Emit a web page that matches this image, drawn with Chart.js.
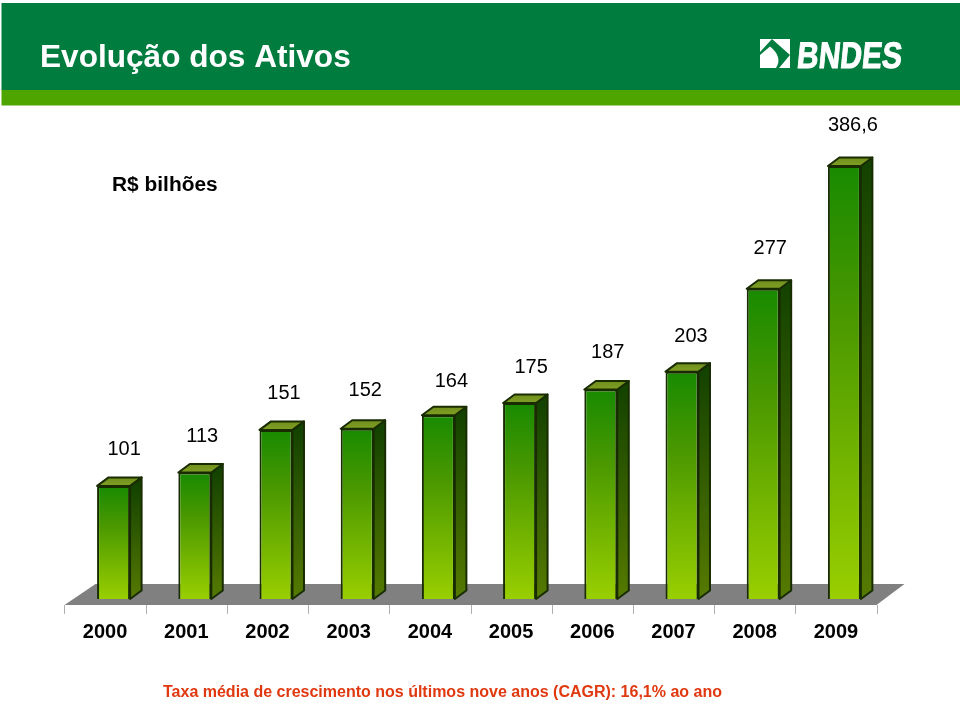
<!DOCTYPE html>
<html><head><meta charset="utf-8">
<style>html,body{margin:0;padding:0;background:#fff}#w{width:960px;height:705px}canvas{display:block}</style>
<script src="https://cdn.jsdelivr.net/npm/chart.js@4"></script></head>
<body><div id="w"><canvas id="c" width="960" height="705"></canvas></div>
<script>
const years = ['2000','2001','2002','2003','2004','2005','2006','2007','2008','2009'];
const assets = [101,113,151,152,164,175,187,203,277,386.6];
const valueLabels = ['101','113','151','152','164','175','187','203','277','386,6'];
const titleText = 'Evolução dos Ativos';
const logoText = 'BNDES';
const unitText = 'R$ bilhões';
const footerText = 'Taxa média de crescimento nos últimos nove anos (CAGR): 16,1% ao ano';

const FONT = '"Liberation Sans", Arial, sans-serif';
const DX = 11.5, DY = 8.5, SHIFT = 8.5;
const labelNudgeX = [10.5,7.5,8,8,13,11.5,7,9,7,8.5];
const labelNudgeY = [36,36,36,38,34,36,37,35,40,41];

const scene = {
  id:'scene',
  beforeDatasetsDraw(chart){
    const c = chart.ctx, x = chart.scales.x, meta = chart.getDatasetMeta(0);
    const base = chart.scales.y.getPixelForValue(0);
    const band = x.getPixelForValue(1) - x.getPixelForValue(0);
    const left = x.getPixelForValue(0) - band/2 - SHIFT;
    const right = x.getPixelForValue(years.length-1) + band/2 - SHIFT;
    c.save();
    // header
    c.fillStyle='#007c3e'; c.fillRect(1.5,3,958.5,87);
    c.fillStyle='#4fa500'; c.fillRect(1.5,90,958.5,15.5);
    c.fillStyle='#fff'; c.textBaseline='alphabetic'; c.textAlign='left';
    c.font='bold 31.6px '+FONT; c.fillText(titleText,40,67);
    // logo mark
    c.fillStyle='#fff'; c.fillRect(760,39,30,29);
    c.fillStyle='#007c3e';
    c.beginPath(); c.moveTo(760,52); c.lineTo(772,39); c.lineTo(790,55); c.lineTo(779,68); c.lineTo(760,68); c.closePath(); c.fill();
    c.fillStyle='#fff';
    c.beginPath(); c.moveTo(760,55); c.lineTo(770,46.5); c.quadraticCurveTo(783,57,776,68); c.lineTo(760,68); c.closePath(); c.fill();
    c.save(); c.translate(796,67.5); c.transform(1,0,-0.1,1,0,0); c.scale(0.81,1);
    c.font='bold 37px '+FONT; c.strokeStyle='#fff'; c.lineWidth=1;
    c.fillText(logoText,0,0); c.strokeText(logoText,0,0); c.restore();
    // floor
    c.fillStyle='#808080';
    c.beginPath(); c.moveTo(left,base+6); c.lineTo(left+31,base-15); c.lineTo(right+28,base-15); c.lineTo(right,base+6); c.closePath(); c.fill();
    c.strokeStyle='#b0b0b0'; c.lineWidth=1;
    for(let i=0;i<=years.length;i++){
      const px = Math.round(left+i*band)+0.5;
      c.beginPath(); c.moveTo(px,base+6); c.lineTo(px,base+15); c.stroke();
    }
    // 3D side and cap of each bar
    c.strokeStyle='#182c00'; c.lineWidth=2; c.lineJoin='round';
    meta.data.forEach(el=>{
      const hw = el.width/2, r = el.x+hw, l = el.x-hw, t = el.y;
      const g = c.createLinearGradient(0,t,0,el.base);
      g.addColorStop(0,'#144300'); g.addColorStop(1,'#567a00');
      c.fillStyle=g;
      c.beginPath(); c.moveTo(r,t); c.lineTo(r+DX,t-DY); c.lineTo(r+DX,el.base-DY); c.lineTo(r,el.base); c.closePath(); c.fill(); c.stroke();
      const h = c.createLinearGradient(0,t-DY,0,t);
      h.addColorStop(0,'#6f8f1c'); h.addColorStop(1,'#7f9f24');
      c.fillStyle=h;
      c.beginPath(); c.moveTo(l,t); c.lineTo(l+DX,t-DY); c.lineTo(r+DX,t-DY); c.lineTo(r,t); c.closePath(); c.fill(); c.stroke();
    });
    c.restore();
  },
  afterDatasetsDraw(chart){
    const c = chart.ctx, meta = chart.getDatasetMeta(0);
    c.save();
    c.fillStyle='#000'; c.textAlign='center'; c.textBaseline='middle';
    c.font='20px '+FONT;
    meta.data.forEach((el,i)=>{ c.fillText(valueLabels[i], el.x+labelNudgeX[i], el.y-labelNudgeY[i]); });
    c.textAlign='left';
    c.font='bold 20.9px '+FONT; c.fillText(unitText,112,185);
    c.fillStyle='#e0380f';
    c.font='bold 16px '+FONT; c.fillText(footerText,163,693);
    c.restore();
  }
};

new Chart(document.getElementById('c'),{
  type:'bar',
  data:{labels:years,datasets:[{
    data:assets,
    backgroundColor(ctx){
      const a = ctx.chart.chartArea; if(!a || ctx.raw===undefined) return '#59a800';
      const y = ctx.chart.scales.y;
      const g = ctx.chart.ctx.createLinearGradient(0,y.getPixelForValue(ctx.raw),0,y.getPixelForValue(0));
      g.addColorStop(0,'#188a00'); g.addColorStop(0.35,'#4a9800'); g.addColorStop(1,'#99cf00');
      return g;
    },
    borderColor:'#182c00',borderWidth:2,barPercentage:0.406,categoryPercentage:1
  }]},
  options:{
    responsive:false,animation:false,
    layout:{padding:{left:73,right:75,top:151,bottom:0}},
    plugins:{legend:{display:false},title:{display:false},tooltip:{enabled:false}},
    scales:{
      x:{position:'bottom',
        afterFit(s){s.height=106;},
        grid:{display:false},border:{display:false},
        ticks:{color:'#000',font:{family:FONT,size:20,weight:'bold'},padding:13,labelOffset:-SHIFT,maxRotation:0,autoSkip:false}},
      y:{display:false,min:0,max:400}
    }
  },
  plugins:[scene]
});
</script></body></html>
